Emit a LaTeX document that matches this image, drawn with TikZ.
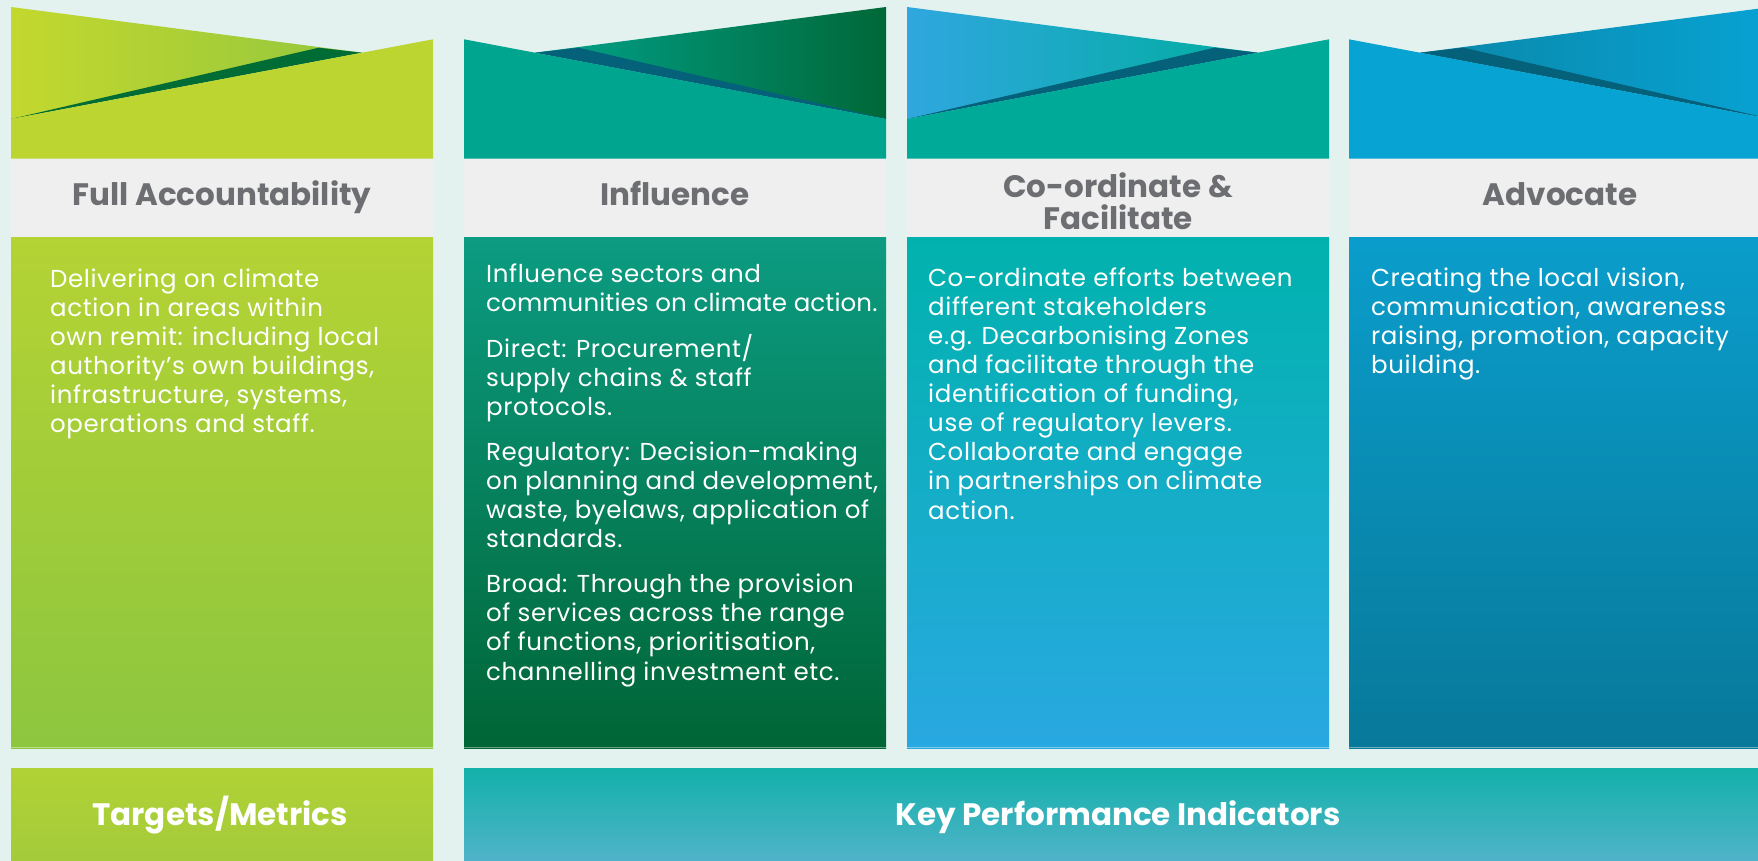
\documentclass[tikz,border=0pt]{standalone}
\usepackage{fontspec}
\setmainfont{Poppins}
\newfontfamily\bodyfont{Poppins}[LetterSpace=2.5]
\newfontfamily\bodytight{Poppins}[LetterSpace=0.5]
\begin{document}
\definecolor{bgmint}{HTML}{E3F2EF}
\definecolor{bandgray}{HTML}{EFEFEF}
\definecolor{headgray}{HTML}{6D6E71}
\definecolor{sliverblue}{HTML}{05607A}
\definecolor{slivergreen}{HTML}{006C35}
% column 1
\definecolor{aBackL}{HTML}{C3D82E}
\definecolor{aBackR}{HTML}{93C73E}
\definecolor{aFront}{HTML}{BDD531}
\definecolor{aTop}{HTML}{B4D334}
\definecolor{aBot}{HTML}{8DC63F}
% column 2
\definecolor{bBackL}{HTML}{00A38C}
\definecolor{bBackM}{HTML}{3E8B6C}
\definecolor{bBackR}{HTML}{006838}
\definecolor{bFront}{HTML}{00A590}
\definecolor{bTop}{HTML}{0C9C82}
\definecolor{bMid}{HTML}{3D8B6B}
\definecolor{bBot}{HTML}{006536}
% column 3
\definecolor{cBackL}{HTML}{2FA7DF}
\definecolor{cBackM}{HTML}{4DB5C6}
\definecolor{cBackR}{HTML}{00AD9F}
\definecolor{cFront}{HTML}{00AA98}
\definecolor{cTop}{HTML}{00B2AD}
\definecolor{cMid}{HTML}{4BB4C6}
\definecolor{cBot}{HTML}{29A8E1}
% column 4
\definecolor{dBackL}{HTML}{0B87A8}
\definecolor{dBackR}{HTML}{07A2D3}
\definecolor{dFront}{HTML}{07A3D3}
\definecolor{dTop}{HTML}{0A9DCB}
\definecolor{dBot}{HTML}{08799A}
% bottom row
\definecolor{tTop}{HTML}{B1D236}
\definecolor{tBot}{HTML}{A3CB3A}
\definecolor{kTop}{HTML}{13B1AA}
\definecolor{kBot}{HTML}{50B3C9}
\begin{tikzpicture}[x=1pt,y=-1pt,
  bodytext/.style={text=white, anchor=base west, inner sep=0pt, align=left,
    font=\bodyfont\fontsize{24.5}{29.1}\selectfont},
  headtext/.style={text=headgray, inner sep=0pt, align=center, anchor=base,
    font=\fontsize{31}{32}\selectfont\bfseries},
  foottext/.style={text=white, inner sep=0pt, anchor=base,
    font=\fontsize{31}{32}\selectfont\bfseries},
  baseedge/.style={line width=1.5pt}]
\useasboundingbox (0,0) rectangle (1758,861);
\fill[bgmint] (0,0) rectangle (1758,861);
\clip (0,0) rectangle (1758,861);

% ---------- column 1: Full Accountability ----------
\shade[left color=aBackL, right color=aBackR] (11,7) -- (362,52.7) -- (11,119) -- cycle;
\fill[slivergreen] (318.6,47.7) -- (362,52.7) -- (11,119) -- cycle;
\fill[aFront] (11,119) -- (433,39.3) -- (433,158.7) -- (11,158.7) -- cycle;
\fill[bandgray] (11,158.7) rectangle (433,237);
\shade[top color=aTop, bottom color=aBot] (11,237) rectangle (433,748);
\draw[baseedge, white!40!aBot] (11,747.5) -- (433,747.5);

% ---------- column 2: Influence ----------
\shade[left color=bBackL, middle color=bBackM, right color=bBackR] (886,7) -- (535,52.7) -- (886,119) -- cycle;
\fill[sliverblue] (578.4,47.7) -- (535,52.7) -- (886,119) -- cycle;
\fill[bFront] (886,119) -- (464,39.3) -- (464,158.7) -- (886,158.7) -- cycle;
\fill[bandgray] (464,158.7) rectangle (886,237);
\shade[top color=bTop, middle color=bMid, bottom color=bBot] (464,237) rectangle (886,748);
\draw[baseedge, white!40!bBot] (464,747.5) -- (886,747.5);

% ---------- column 3: Co-ordinate & Facilitate ----------
\shade[left color=cBackL, middle color=cBackM, right color=cBackR] (907,7) -- (1258,52.7) -- (907,119) -- cycle;
\fill[sliverblue] (1214.6,47.7) -- (1258,52.7) -- (907,119) -- cycle;
\fill[cFront] (907,119) -- (1329,39.3) -- (1329,158.7) -- (907,158.7) -- cycle;
\fill[bandgray] (907,158.7) rectangle (1329,237);
\shade[top color=cTop, middle color=cMid, bottom color=cBot] (907,237) rectangle (1329,748);
\draw[baseedge, white!40!cBot] (907,747.5) -- (1329,747.5);

% ---------- column 4: Advocate ----------
\shade[left color=dBackL, right color=dBackR] (1771,7) -- (1420,52.7) -- (1771,119) -- cycle;
\fill[sliverblue] (1463.4,47.7) -- (1420,52.7) -- (1771,119) -- cycle;
\fill[dFront] (1771,119) -- (1349,39.3) -- (1349,158.7) -- (1771,158.7) -- cycle;
\fill[bandgray] (1349,158.7) rectangle (1771,237);
\shade[top color=dTop, bottom color=dBot] (1349,237) rectangle (1771,748);
\draw[baseedge, white!40!dBot] (1349,747.5) -- (1771,747.5);

% ---------- bottom row ----------
\shade[top color=tTop, bottom color=tBot] (11,768) rectangle (433,861);
\shade[top color=kTop, bottom color=kBot] (464,768) rectangle (1771,861);

% ---------- headings (anchored on the last baseline) ----------
\node[headtext] (h1) at (222,205) {Full Accountability};
\node[headtext] (h2) at (675,205) {Influence};
\node[headtext] (h3) at (1118,229.3) {Co-ordinate \&\\Facilitate};
\node[headtext] (h4) at (1560,205) {Advocate};

% ---------- body texts (anchored on the last baseline) ----------
\node[bodytext] (b1) at (50,432.5) {Delivering on climate\\
action in areas within\\
own remit: including local\\
authority’s own buildings,\\
infrastructure, systems,\\
operations and staff.};

\node[bodytext] (b2) at (486,680) {Influence sectors and\\
{\bodytight communities on climate action.}\\[16pt]
Direct: Procurement/\\
supply chains \& staff\\
protocols.\\[16pt]
Regulatory: Decision-making\\
on planning and development,\\
waste, byelaws, application of\\
standards.\\[16pt]
Broad: Through the provision\\
of services across the range\\
of functions, prioritisation,\\
channelling investment etc.};

\node[bodytext] (b3) at (928,519) {Co-ordinate efforts between\\
different stakeholders\\
e.g. Decarbonising Zones\\
and facilitate through the\\
identification of funding,\\
use of regulatory levers.\\
Collaborate and engage\\
in partnerships on climate\\
action.};

\node[bodytext] (b4) at (1371,373.3) {Creating the local vision,\\
communication, awareness\\
raising, promotion, capacity\\
building.};

% ---------- bottom labels ----------
\node[foottext] (f1) at (220,825) {Targets/Metrics};
\node[foottext] (f2) at (1118,825) {Key Performance Indicators};
\end{tikzpicture}
\end{document}
